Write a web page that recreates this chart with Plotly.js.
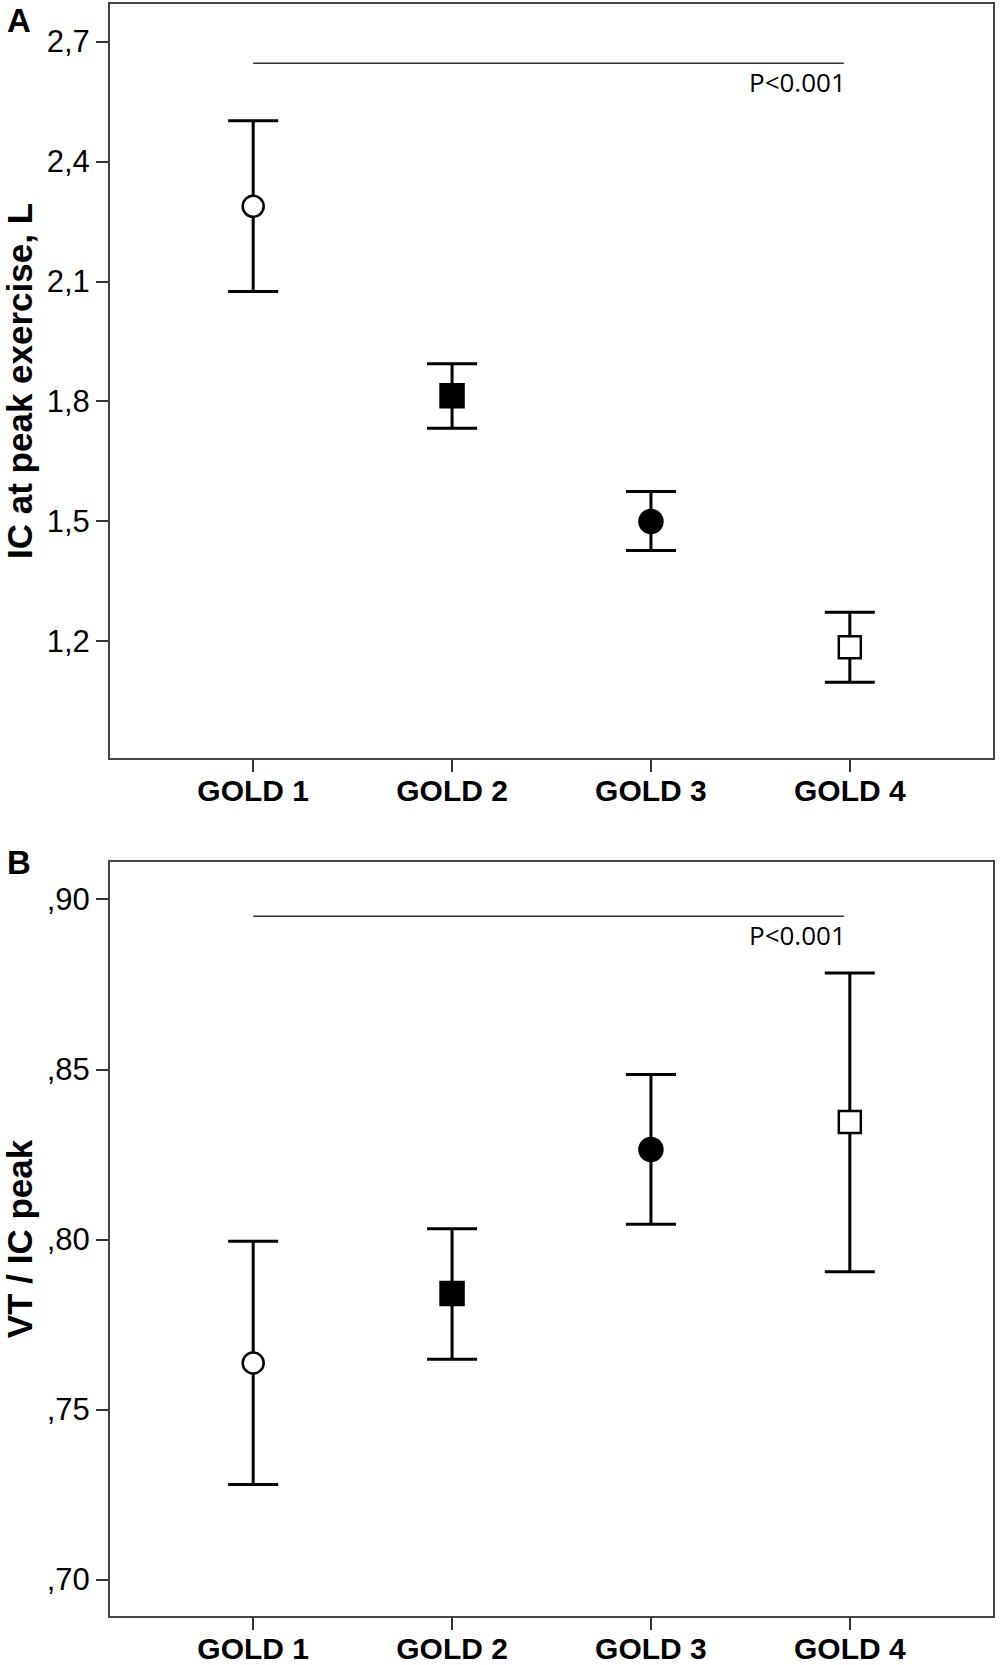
<!DOCTYPE html>
<html>
<head>
<meta charset="utf-8">
<script src="https://cdn.plot.ly/plotly-3.0.1.min.js"></script>
<style>
  body { margin: 0; background: #fff; }
  #myPlot { width: 1000px; height: 1665px; }
</style>
</head>
<body>
<div id="myPlot"></div>
<script>
// groups
let cats = ['GOLD 1', 'GOLD 2', 'GOLD 3', 'GOLD 4'];

// panel A: IC at peak exercise (L), mean and 95% CI
let icMean = [2.288, 1.814, 1.500, 1.185];
let icLow  = [2.075, 1.733, 1.427, 1.098];
let icHigh = [2.502, 1.894, 1.575, 1.273];

// panel B: VT / IC peak, mean and 95% CI
let vtMean = [0.7637, 0.7841, 0.8265, 0.8346];
let vtLow  = [0.7280, 0.7648, 0.8045, 0.7905];
let vtHigh = [0.7995, 0.8032, 0.8485, 0.8784];

// tick labels (comma decimals as in the original)
let icTicks = [1.2, 1.5, 1.8, 2.1, 2.4, 2.7];
let icTickText = ['1,2', '1,5', '1,8', '2,1', '2,4', '2,7'];
let vtTicks = [0.70, 0.75, 0.80, 0.85, 0.90];
let vtTickText = [',70', ',75', ',80', ',85', ',90'];

// significance bars
let sigA = 2.646;
let sigB = 0.8951;
let sigText = 'P<0.001';

let font = 'Liberation Sans, Arial, sans-serif';

let symbols = ['circle', 'square', 'circle', 'square'];
let fills = ['#ffffff', '#000000', '#000000', '#ffffff'];
let sizes = [21, 23, 23, 22];

function diff(a, b) {
  let out = [];
  for (let i = 0; i < a.length; i++) out[i] = a[i] - b[i];
  return out;
}

function markers() {
  return { symbol: symbols, color: fills, size: sizes, opacity: 1, line: { color: '#000000', width: 2.5 } };
}

var traceA = {
  x: cats,
  y: icMean,
  xaxis: 'x', yaxis: 'y',
  type: 'scatter',
  mode: 'markers',
  marker: markers(),
  error_y: { type: 'data', symmetric: false, array: diff(icHigh, icMean), arrayminus: diff(icMean, icLow),
             color: '#000000', thickness: 3, width: 25 },
  showlegend: false
};

var traceB = {
  x: cats,
  y: vtMean,
  xaxis: 'x2', yaxis: 'y2',
  type: 'scatter',
  mode: 'markers',
  marker: markers(),
  error_y: { type: 'data', symmetric: false, array: diff(vtHigh, vtMean), arrayminus: diff(vtMean, vtLow),
             color: '#000000', thickness: 3, width: 25 },
  showlegend: false
};

function xAxis(anchor) {
  return {
    anchor: anchor,
    type: 'category',
    range: [-0.72, 3.72],
    showline: true, mirror: true, linecolor: '#444', linewidth: 2,
    ticks: 'outside', ticklen: 12, tickwidth: 2, tickcolor: '#333',
    ticklabelstandoff: -7,
    showgrid: false, zeroline: false,
    tickfont: { family: font, size: 30, color: 'black', weight: 'bold' }
  };
}

function yAxis(anchor, domain, range, vals, text, title) {
  return {
    anchor: anchor,
    domain: domain,
    range: range,
    tickvals: vals, ticktext: text,
    showline: true, mirror: true, linecolor: '#444', linewidth: 2,
    ticks: 'outside', ticklen: 12, tickwidth: 2, tickcolor: '#333',
    showgrid: false, zeroline: false,
    tickfont: { family: font, size: 31, color: 'black' },
    title: { text: title, standoff: 6, font: { family: font, size: 35, color: 'black', weight: 'bold' } }
  };
}

var layout = {
  width: 1000,
  height: 1665,
  margin: { l: 110, r: 7, t: 4, b: 49 },
  paper_bgcolor: 'white',
  plot_bgcolor: 'white',
  font: { family: font, color: 'black' },
  xaxis: xAxis('y'),
  xaxis2: xAxis('y2'),
  yaxis: yAxis('x', [0.5323, 1], [0.9085, 2.794], icTicks, icTickText, 'IC at peak exercise, L'),
  yaxis2: yAxis('x2', [0, 0.4677], [0.6893, 0.911], vtTicks, vtTickText, 'VT / IC peak'),
  shapes: [
    { type: 'line', xref: 'x', yref: 'y', x0: 0, x1: 2.97, y0: sigA, y1: sigA, line: { color: '#333', width: 1.5 } },
    { type: 'line', xref: 'x2', yref: 'y2', x0: 0, x1: 2.97, y0: sigB, y1: sigB, line: { color: '#333', width: 1.5 } }
  ],
  annotations: [
    { xref: 'x', yref: 'y', x: 2.97, y: sigA, xanchor: 'right', yanchor: 'top', xshift: 4, yshift: 1, showarrow: false,
      text: sigText, font: { family: 'Open Sans, sans-serif', size: 26, color: 'black' } },
    { xref: 'x2', yref: 'y2', x: 2.97, y: sigB, xanchor: 'right', yanchor: 'top', xshift: 4, yshift: 1, showarrow: false,
      text: sigText, font: { family: 'Open Sans, sans-serif', size: 26, color: 'black' } },
    { xref: 'paper', yref: 'paper', x: -0.103, y: 0.990, xanchor: 'center', yanchor: 'middle', showarrow: false,
      text: '<b>A</b>', font: { family: font, size: 33, color: 'black' } },
    { xref: 'paper', yref: 'paper', x: -0.103, y: 0.4677, xanchor: 'center', yanchor: 'middle', showarrow: false,
      text: '<b>B</b>', font: { family: font, size: 33, color: 'black' } }
  ]
};

Plotly.newPlot('myPlot', [traceA, traceB], layout, { displayModeBar: false, staticPlot: true });
</script>
</body>
</html>
